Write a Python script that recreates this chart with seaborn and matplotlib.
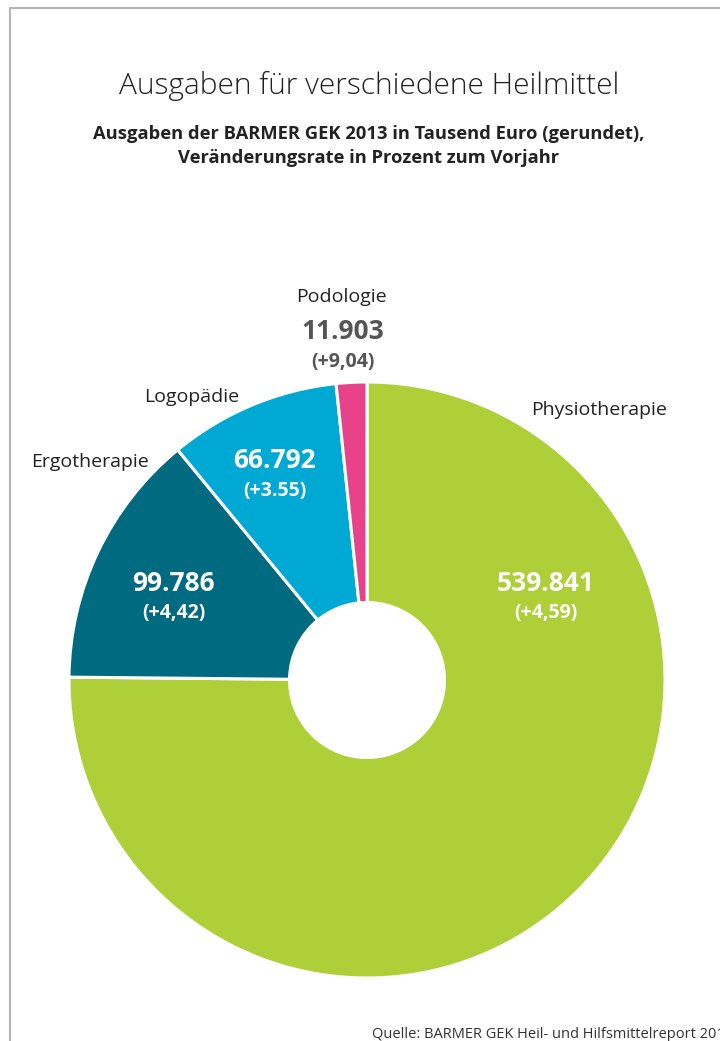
import matplotlib
matplotlib.use("Agg")
import matplotlib.pyplot as plt
import seaborn as sns
from matplotlib.patches import Rectangle

# Daten
categories = ["Physiotherapie", "Ergotherapie", "Logopädie", "Podologie"]
values = [539841, 99786, 66792, 11903]
value_labels = ["539.841", "99.786", "66.792", "11.903"]
change_labels = ["(+4,59)", "(+4,42)", "(+3.55)", "(+9,04)"]
colors = ["#aecf37", "#006a80", "#00a8d4", "#e8428a"]

sns.set_theme(style="white")
plt.rcParams["font.family"] = ["Open Sans", "DejaVu Sans"]

fig = plt.figure(figsize=(7.2, 10.41), dpi=100)

# Rahmen
fig.add_artist(Rectangle((10 / 720, -0.05), 1.1, 1 - 8 / 1041 + 0.05, transform=fig.transFigure,
                         fill=False, edgecolor="#b5b5b5", linewidth=1.5))

fig.text(0.512, 1 - 86 / 1041, "Ausgaben für verschiedene Heilmittel", ha="center", va="center",
         fontsize=21.5, fontweight="light", color="#222222")
fig.text(0.512, 1 - 146 / 1041, "Ausgaben der BARMER GEK 2013 in Tausend Euro (gerundet),\n"
         "Veränderungsrate in Prozent zum Vorjahr", ha="center", va="center",
         fontsize=13.2, fontweight="bold", color="#222222", linespacing=1.42)

# Donut
R = 298
cx, cy = 367, 1041 - 680
ax = fig.add_axes([(cx - R) / 720, (cy - R) / 1041, 2 * R / 720, 2 * R / 1041])
wedges, _ = ax.pie(values, colors=colors, startangle=90, counterclock=False, radius=1,
                   wedgeprops=dict(width=0.74, edgecolor="white", linewidth=2.2))
ax.set_xlim(-1, 1)
ax.set_ylim(-1, 1)
ax.set_aspect("equal")
ax.axis("off")

# Beschriftungen (Positionen in Achseneinheiten)
val_pos = [(0.60, 0.325), (-0.648, 0.325), (-0.309, 0.735), (-0.08, 1.168)]
name_pos = [(0.78, 0.906), (-0.93, 0.73), (-0.587, 0.95), (-0.087, 1.285)]
val_colors = ["white", "white", "white", "#555555"]

for i, cat in enumerate(categories):
    x, y = val_pos[i]
    ax.text(x, y, value_labels[i], ha="center", va="center", fontsize=19, fontweight="bold",
            color=val_colors[i], clip_on=False)
    ax.text(x, y - 0.1, change_labels[i], ha="center", va="center", fontsize=14,
            fontweight="bold", color=val_colors[i], clip_on=False)
    nx, ny = name_pos[i]
    ax.text(nx, ny, cat, ha="center", va="center", fontsize=14, color="#222222", clip_on=False)

# Quellenangabe läuft wie im Original über den rechten Rand hinaus
fig.text(372 / 720, 1 - 1035 / 1041, "Quelle: BARMER GEK Heil- und Hilfsmittelreport 2014",
         ha="left", va="center", fontsize=10.5, color="#333333")

plt.savefig("out.png", dpi=100)
